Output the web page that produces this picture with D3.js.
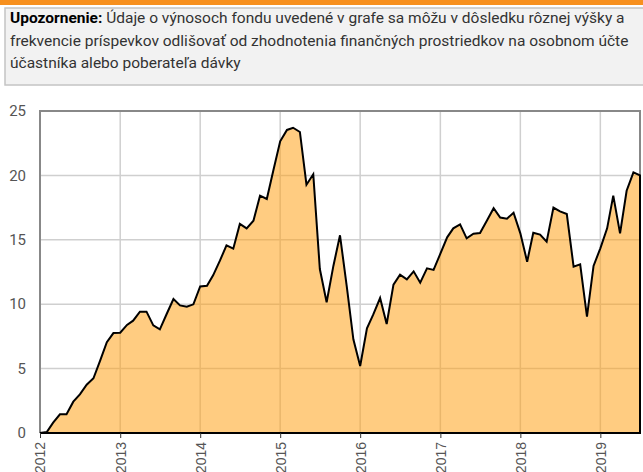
<!DOCTYPE html>
<html>
<head>
<meta charset="utf-8">
<script src="https://cdn.jsdelivr.net/npm/d3@7"></script>
<style>
  body { margin: 0; background: #fff; }
  svg { display: block; font-family: Roboto, "Open Sans", sans-serif; }
  .note { font-size: 15.5px; fill: #333; }
  .note .lead { font-weight: bold; fill: #000; }
  .grid line { stroke: #cfcfcf; stroke-width: 1.5; }
  .ylab { font-size: 15px; fill: #555; }
  .xaxis text { font-size: 14px; fill: #555; }
  .xaxis line { stroke: #333; }
  .xaxis path { display: none; }
</style>
</head>
<body>
<svg width="643" height="472"></svg>
<script>
// monthly values (%), Jan 2012 .. Jul 2019
const values = [
  0, 0.08, 0.8, 1.45, 1.45, 2.43, 3.0, 3.75, 4.25, 5.6, 7.05, 7.76,
  7.79, 8.39, 8.72, 9.42, 9.42, 8.36, 8.05, 9.24, 10.4, 9.91, 9.81, 9.99,
  11.38, 11.43, 12.24, 13.38, 14.57, 14.31, 16.23, 15.89, 16.48, 18.43, 18.17, 20.4,
  22.65, 23.53, 23.7, 23.37, 19.28, 20.09, 12.73, 10.15, 12.99, 15.35, 11.36, 7.27,
  5.2, 8.12, 9.21, 10.48, 8.46, 11.52, 12.29, 11.93, 12.55, 11.67, 12.78, 12.66,
  13.92, 15.19, 15.89, 16.2, 15.11, 15.47, 15.53, 16.48, 17.45, 16.73, 16.64, 17.1,
  15.5, 13.3, 15.55, 15.4, 14.85, 17.5, 17.21, 17.0, 12.91, 13.1, 9.03, 12.97,
  14.34, 15.89, 18.43, 15.5, 18.81, 20.24, 20.0
];
const months = d3.timeMonth.range(new Date(2012, 0, 1), new Date(2019, 7, 1));
const yearTicks = [2012, 2013, 2014, 2015, 2016, 2017, 2018, 2019];
const yTicks = [0, 5, 10, 15, 20, 25];

const noteLines = [
  ['Upozornenie:', ' Údaje o výnosoch fondu uvedené v grafe sa môžu v dôsledku rôznej výšky a'],
  ['', 'frekvencie príspevkov odlišovať od zhodnotenia finančných prostriedkov na osobnom účte'],
  ['', 'účastníka alebo poberateľa dávky']
];

const data = months.map((d, i) => ({ date: d, v: values[i] }));

const svg = d3.select('svg');
const mLeft = 40, mRight = 640, mTop = 111, mBottom = 433;

// orange band + note box
svg.append('rect').attr('x', 0).attr('y', 0).attr('width', 643).attr('height', 5).attr('fill', '#f7901e');
svg.append('rect').attr('x', 5).attr('y', 8).attr('width', 640).attr('height', 77)
  .attr('fill', '#f2f2f2').attr('stroke', '#c4c4c4').attr('stroke-width', 1.5);

noteLines.forEach((l, i) => {
  const t = svg.append('text').attr('class', 'note').attr('x', 10).attr('y', 23 + i * 22.5);
  if (l[0]) t.append('tspan').attr('class', 'lead').text(l[0]);
  t.append('tspan').text(l[1]);
});

const x = d3.scaleTime().domain(d3.extent(months)).range([mLeft, mRight]);
const y = d3.scaleLinear().domain([0, 25]).range([mBottom, mTop]);

// grid
const grid = svg.append('g').attr('class', 'grid');
grid.selectAll('.h').data(yTicks.slice(1, -1)).join('line')
  .attr('x1', mLeft).attr('x2', mRight).attr('y1', d => y(d)).attr('y2', d => y(d));
grid.selectAll('.v').data(yearTicks.slice(1)).join('line')
  .attr('x1', d => x(new Date(d, 0, 1))).attr('x2', d => x(new Date(d, 0, 1)))
  .attr('y1', mTop).attr('y2', mBottom);

// frame
svg.append('path')
  .attr('d', `M${mLeft},${mBottom}V${mTop}H${mRight}V${mBottom}`)
  .attr('fill', 'none').attr('stroke', '#888').attr('stroke-width', 2);

// area
const area = d3.area()
  .x(d => x(d.date))
  .y0(y(0))
  .y1(d => y(d.v));

svg.append('path').datum(data)
  .attr('d', area)
  .attr('fill', '#ffa31a').attr('fill-opacity', 0.55)
  .attr('stroke', '#000').attr('stroke-width', 2).attr('stroke-linejoin', 'miter');

// y labels
svg.selectAll('.ylab').data(yTicks).join('text')
  .attr('class', 'ylab')
  .attr('x', 26).attr('y', d => y(d)).attr('dy', '0.35em')
  .attr('text-anchor', 'end')
  .text(d => d);

// x axis
const xAxis = d3.axisBottom(x)
  .tickValues(yearTicks.map(d => new Date(d, 0, 1)))
  .tickFormat(d3.timeFormat('%Y'))
  .tickSize(5);
const gx = svg.append('g').attr('class', 'xaxis').attr('transform', `translate(0,${mBottom})`).call(xAxis);
gx.selectAll('text')
  .attr('transform', 'rotate(-90)')
  .attr('text-anchor', 'end')
  .attr('x', -9).attr('y', 0).attr('dy', '0.35em');
</script>
</body>
</html>
